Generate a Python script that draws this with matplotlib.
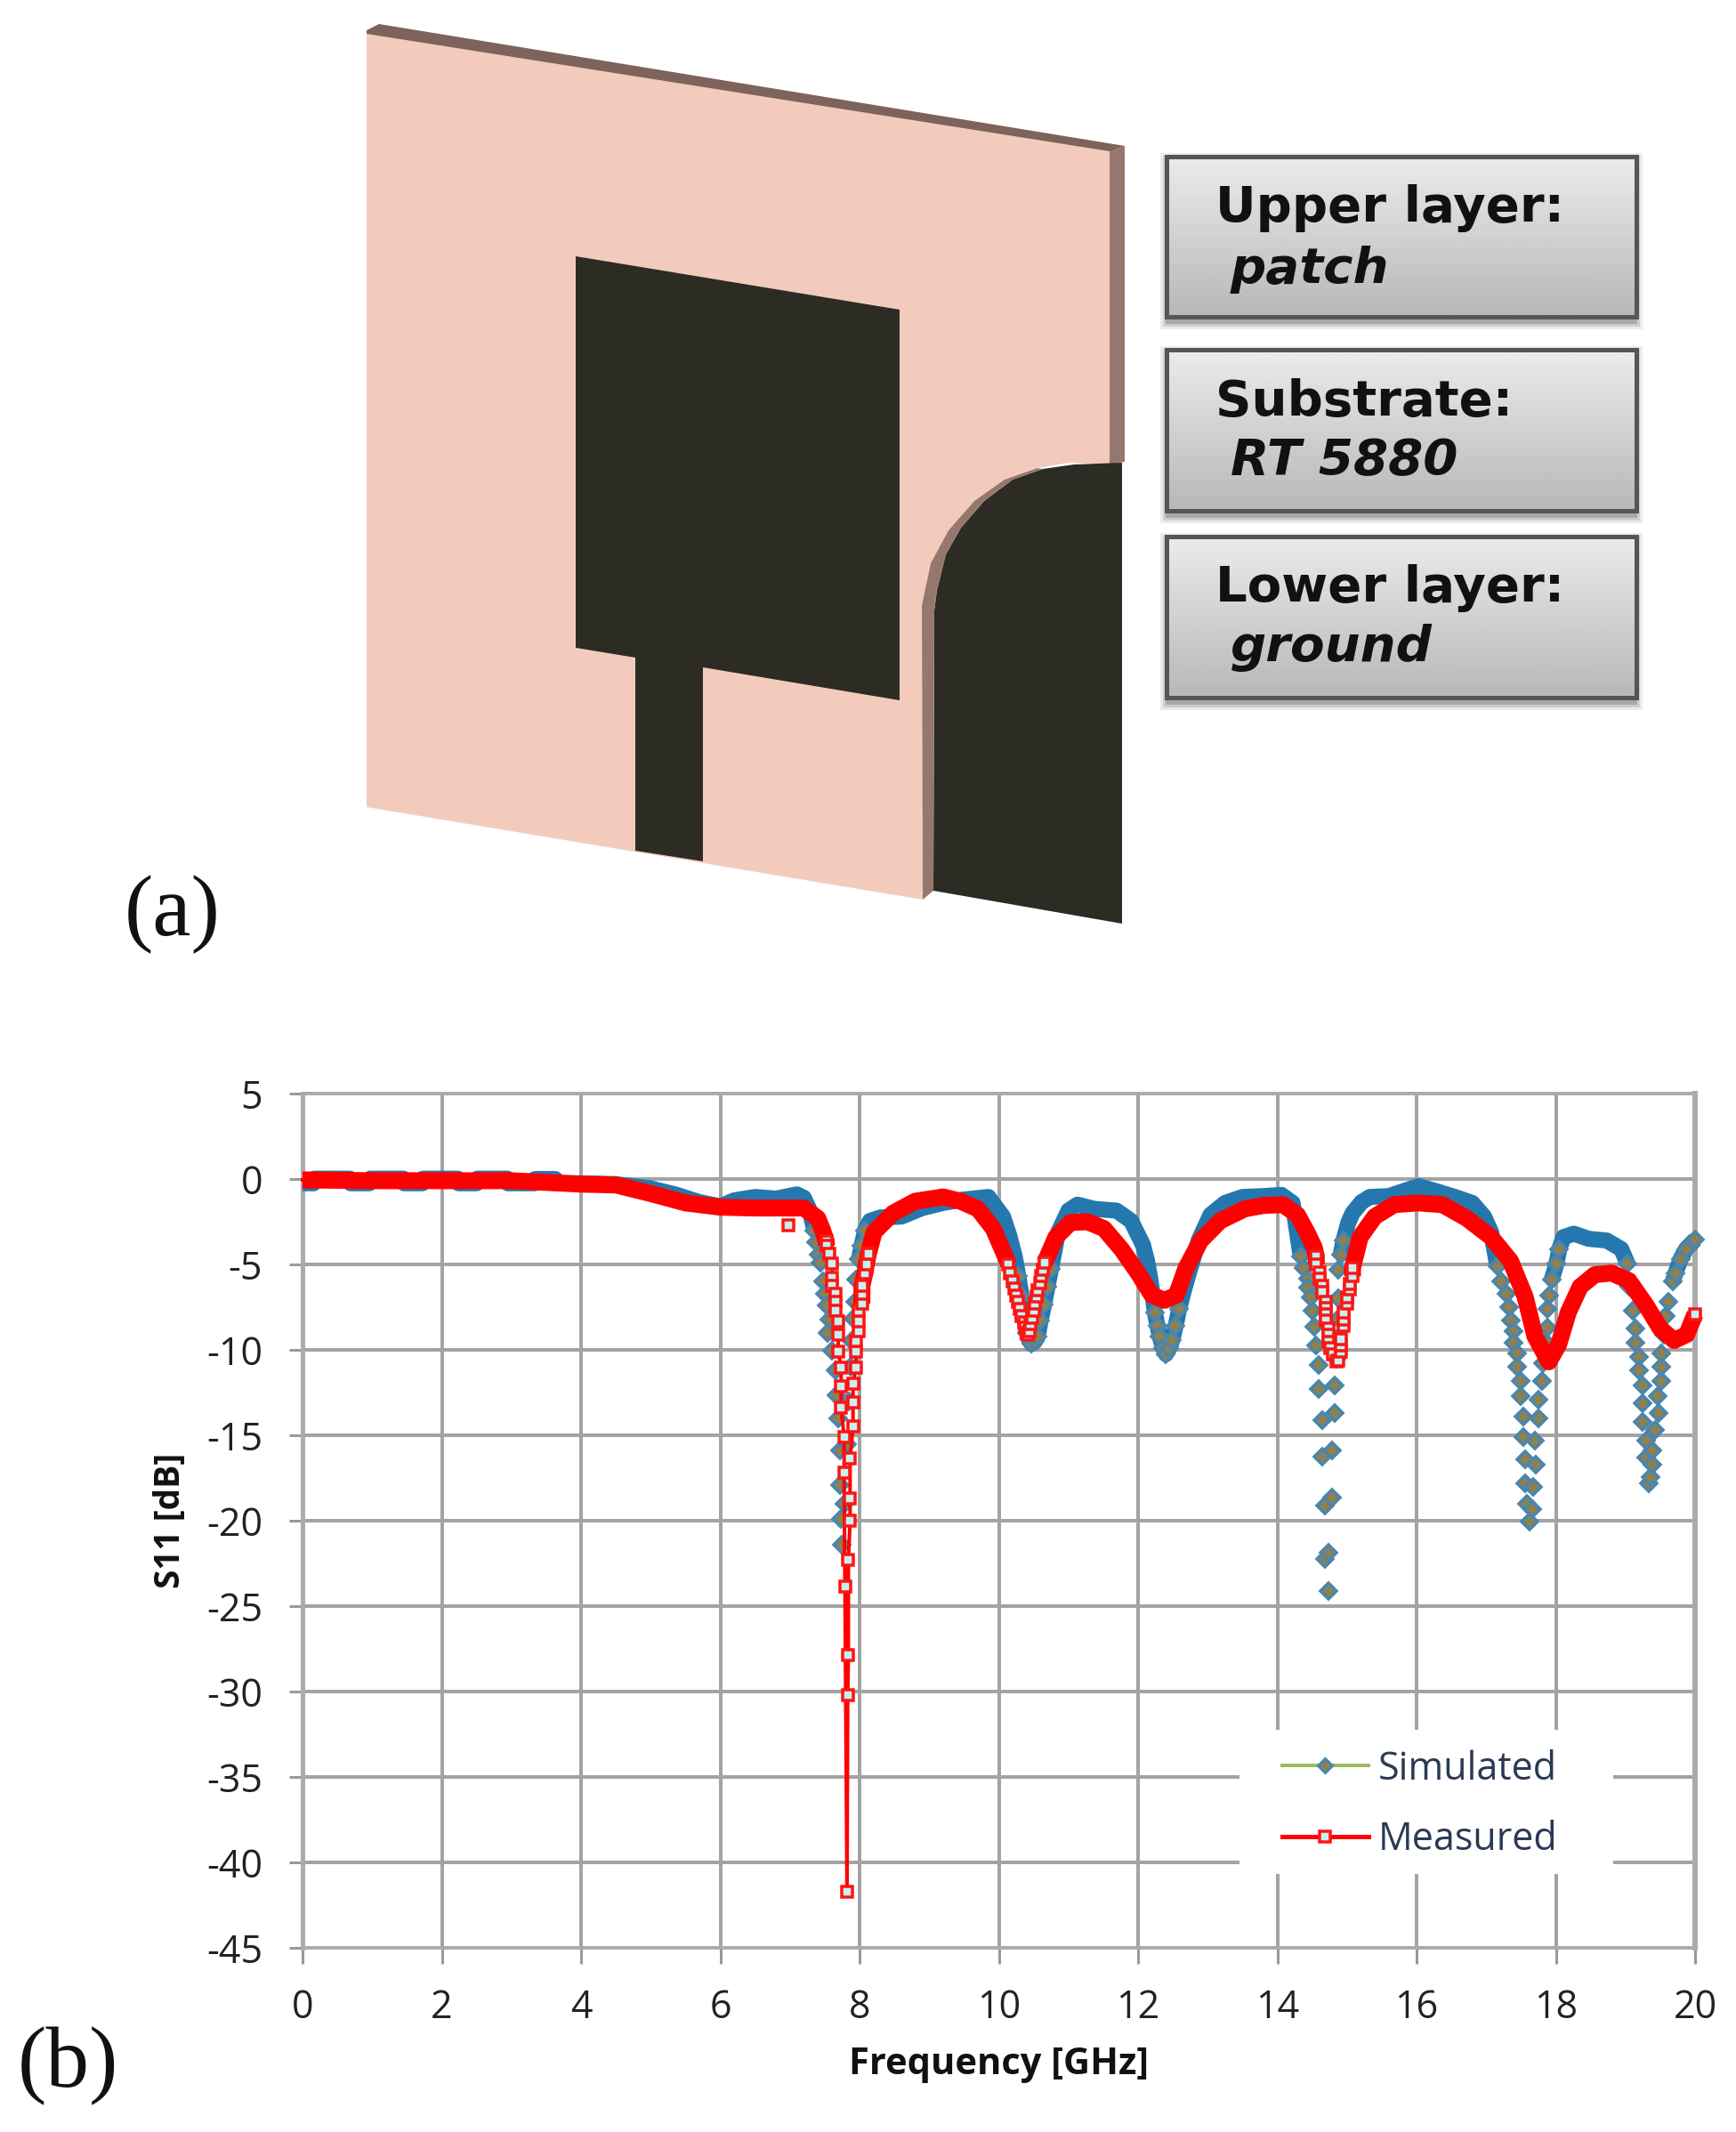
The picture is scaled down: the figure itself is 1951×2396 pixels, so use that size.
import numpy as np
import matplotlib
matplotlib.use("Agg")
import matplotlib.pyplot as plt
from matplotlib.lines import Line2D
from matplotlib.patches import Polygon, Rectangle

W, H = 1951, 2396
PX = 0.72  # one pixel in points at dpi=100

# Chart data
x_ticks = list(range(0, 21, 2))
y_ticks = list(range(-45, 6, 5))

sim_freq = [0, .16, .17, .68, .69, .96, .97, 1.45, 1.46, 1.72, 1.73, 2.23, 2.24, 2.5, 2.51, 2.94, 2.95, 3.33, 3.34, 3.63,
            3.64, 4.0, 4.5, 5.0, 5.35, 5.7, 6.0, 6.2, 6.5, 6.8, 7.1, 7.2, 7.28,
            7.352, 7.38, 7.416, 7.44, 7.48, 7.5, 7.523, 7.565, 7.544, 7.608, 7.651, 7.672, 7.69, 7.715, 7.725, 7.736,
            7.75, 7.78, 7.82, 7.85, 7.87, 7.89, 7.906, 7.93, 7.95, 7.99, 8.03, 8.08, 8.15, 8.3, 8.6, 8.9, 9.2, 9.5, 9.85,
            10.06, 10.15, 10.23, 10.28, 10.33, 10.37, 10.4, 10.44, 10.47, 10.52, 10.56, 10.6, 10.65, 10.7, 10.75, 10.8, 10.85, 11.0, 11.13,
            11.375, 11.69, 11.9, 12.07, 12.13, 12.17, 12.21, 12.24, 12.28, 12.31, 12.36, 12.4, 12.45, 12.49, 12.54, 12.59, 12.66, 12.73, 12.87,
            13.04, 13.25, 13.5, 13.8, 14.06, 14.22,
            14.335, 14.377, 14.44, 14.44, 14.48, 14.505, 14.527, 14.56, 14.6, 14.6, 14.646, 14.646, 14.69, 14.69, 14.74,
            14.74, 14.79, 14.79, 14.83, 14.83, 14.85, 14.86, 14.87, 14.87, 14.87, 14.91, 14.95, 15.02, 15.08, 15.21, 15.33,
            15.6, 15.82, 16.03, 16.27, 16.55, 16.8, 16.97, 17.07,
            17.16, 17.22, 17.29, 17.33, 17.35, 17.39, 17.39, 17.44, 17.45, 17.49, 17.49, 17.53, 17.53, 17.56, 17.56, 17.58, 17.62,
            17.66, 17.67, 17.71, 17.7, 17.75, 17.75, 17.8, 17.82, 17.86, 17.88, 17.88, 17.9, 17.94, 18.01, 18.05, 18.11, 18.26, 18.47, 18.73, 18.94,
            19.03, 19.05, 19.11, 19.15, 19.15, 19.2, 19.2, 19.25, 19.25, 19.25, 19.3, 19.3, 19.33,
            19.36, 19.39, 19.39, 19.43, 19.47, 19.46, 19.51, 19.51, 19.51, 19.55, 19.58, 19.62, 19.68, 19.72, 19.79, 19.87, 20.0]
sim_db = [-.25, -.25, .02, .02, -.25, -.25, .02, .02, -.25, -.25, .02, .02, -.25, -.25, .02, .02, -.25, -.25, 0, 0,
          -.25, -.25, -.3, -.55, -.9, -1.35, -1.6, -1.25, -1.05, -1.15, -.9, -1.1, -1.8,
          -3.0, -3.7, -4.45, -4.88, -6.0, -6.7, -7.4, -8.25, -9.0, -10.05, -11.2, -12.65, -14.0, -15.9, -17.9, -19.9,
          -21.4, -19.0, -15.5, -13.0, -11.0, -9.5, -8.2, -7.2, -5.9, -4.7, -3.9, -3.0, -2.45, -2.25, -2.2, -1.7, -1.4, -1.2, -1.05,
          -2.2, -3.3, -4.55, -5.7, -6.9, -8.1, -9.0, -9.4, -9.65, -9.5, -9.2, -8.3, -7.35, -6.3, -5.25, -4.2, -3.15, -1.85, -1.5,
          -1.75, -1.85, -2.45, -3.85, -4.8, -5.7, -6.8, -7.8, -8.6, -9.2, -9.9, -10.25, -9.9, -9.45, -8.6, -7.6, -6.5, -5.5, -3.6,
          -2.1, -1.4, -1.05, -1.0, -.93, -1.4,
          -4.53, -5.2, -5.83, -6.34, -6.95, -7.72, -8.67, -9.76, -10.86, -12.3, -14.1, -16.26, -19.1, -22.24, -24.1,
          -21.9, -18.65, -15.9, -13.7, -12.1, -10.5, -9.3, -8.2, -7.0, -5.3, -4.45, -3.6, -2.55, -2.0, -1.35, -1.05,
          -1.0, -.7, -.42, -.7, -1.05, -1.4, -2.2, -3.1,
          -5.1, -6.0, -6.7, -7.5, -8.3, -8.9, -9.6, -10.2, -11.0, -11.8, -12.7, -13.9, -15.1, -16.4, -17.8, -19.0, -20.07,
          -19.3, -18.0, -16.7, -15.3, -14.0, -12.9, -11.8, -10.8, -9.6, -8.7, -7.6, -6.8, -5.9, -4.95, -4.1, -3.4, -3.2, -3.5, -3.6, -4.1,
          -4.95, -6.3, -7.7, -8.75, -9.6, -10.4, -11.2, -12.1, -13.1, -14.2, -15.3, -16.3, -17.8,
          -17.45, -16.7, -15.9, -14.7, -13.7, -12.7, -11.8, -11.0, -10.2, -9.1, -8.0, -7.2, -6.0, -5.5, -4.7, -4.1, -3.55]

meas_freq = [0, 1, 2, 3, 4, 4.5, 5, 5.5, 6, 6.5, 7.0, 7.2, 7.3, 7.4, 7.47,
             7.523, 7.523, 7.565, 7.608, 7.608, 7.608, 7.651, 7.651, 7.651, 7.693, 7.693, 7.693, 7.736, 7.736, 7.736,
             7.778, 7.778, 7.79, 7.82, 7.83, 7.84, 7.84, 7.864, 7.864, 7.864,
             7.906, 7.906, 7.906, 7.949, 7.949, 7.949, 7.991, 7.991, 7.991, 8.034, 8.034, 8.034, 8.077, 8.098, 8.128, 8.21, 8.48, 8.8, 9.2, 9.45, 9.7, 9.92, 10.09,
             10.14, 10.16, 10.2, 10.22, 10.25, 10.28, 10.3, 10.33, 10.36, 10.38, 10.4, 10.42, 10.44, 10.46, 10.48, 10.5, 10.52, 10.54, 10.56, 10.59, 10.61, 10.63, 10.66,
             10.82, 11.03, 11.27, 11.51, 11.76, 12, 12.2, 12.38, 12.55, 12.69, 12.9, 13.18, 13.53, 13.8, 14.08, 14.29, 14.43, 14.53,
             14.56, 14.56, 14.61, 14.61, 14.65, 14.65, 14.70, 14.70, 14.70, 14.70, 14.74, 14.74, 14.74, 14.76, 14.8, 14.85,
             14.87, 14.91, 14.91, 14.91, 14.95, 14.95, 14.95, 15.0, 15.0, 15.04, 15.04, 15.08, 15.08,
             15.19, 15.4, 15.68, 16.03, 16.37, 16.72, 17.07, 17.35, 17.56, 17.7, 17.9, 18.04, 18.18, 18.35, 18.56, 18.8, 19.05, 19.29, 19.5, 19.7, 19.88, 20.0]
meas_db = [-.05, -.1, -.1, -.1, -.3, -.35, -.85, -1.4, -1.65, -1.7, -1.7, -1.7, -2.0, -2.3, -3.0,
           -3.67, -3.9, -4.36, -4.97, -5.79, -6.26, -6.72, -7.17, -7.72, -8.33, -9.14, -10.1, -11.03, -12.12, -13.38,
           -15.1, -17.17, -23.85, -41.7, -30.2, -27.85, -22.3, -20.0, -18.72, -16.38,
           -14.48, -13.07, -12.0, -11.03, -10.1, -9.5, -8.9, -8.33, -7.72, -7.3, -6.72, -6.26, -5.5, -5.0, -4.36, -3.1, -2.0, -1.3, -1.05, -1.3, -1.75, -2.9, -4.5,
           -5.0, -5.5, -6.0, -6.4, -6.8, -7.2, -7.6, -8.0, -8.4, -8.7, -9.0, -9.1, -8.9, -8.5, -8.1, -7.7, -7.3, -6.9, -6.5, -6.1, -5.7, -5.3, -4.9,
           -3.4, -2.55, -2.5, -2.9, -4.1, -5.5, -6.8, -7.1, -6.8, -5.2, -3.6, -2.45, -1.75, -1.55, -1.5, -2.1, -3.15, -4.0,
           -4.53, -5.0, -5.48, -5.83, -6.26, -6.6, -7.17, -7.55, -7.9, -8.28, -8.76, -9.1, -9.53, -9.88, -10.28, -10.7,
           -10.65, -10.1, -9.76, -9.36, -8.6, -8.25, -7.8, -7.3, -6.95, -6.48, -6.17, -5.7, -5.2,
           -3.4, -2.2, -1.5, -1.4, -1.5, -2.3, -3.4, -4.8, -6.9, -9.2, -10.7, -9.7, -7.8, -6.3, -5.6, -5.5, -5.95, -7.35, -8.75, -9.45, -9.1, -7.9]
stray_freq = [6.98]
stray_db = [-2.7]

# which stretches are so dense in the original that the markers merge into a band
sim_band = [(0, 7.36), (7.99, 14.34), (14.9, 17.17), (17.94, 19.04), (19.65, 20.05)]
sim_marks = [(7.3, 8.1), (10.25, 10.75), (12.2, 12.65), (14.3, 15.0), (17.15, 18.1), (19.0, 20.05)]
meas_band = [(0, 7.53), (8.03, 10.15), (10.65, 14.57), (15.07, 20.0)]
meas_marks = [(7.5, 8.13), (10.14, 10.66), (14.56, 15.08), (19.99, 20.05)]

# Panel (a), pixel outlines of the model
front_face = [(412, 38), (1247, 170), (1247, 522), (1201, 520), (1166, 526), (1129, 539), (1095, 563), (1066, 596),
              (1046, 633), (1036, 680), (1037, 1011), (412, 907)]
top_edge = [(412, 34), (426, 27), (1264, 164), (1247, 171), (412, 40)]
side_edge = [(1247, 171), (1264, 164), (1264, 519), (1247, 522)]
ground_edge = [(1166, 526), (1129, 539), (1095, 563), (1066, 596), (1046, 633), (1036, 680), (1037, 1011), (1049, 1001),
               (1050, 686), (1053, 663), (1063, 623), (1080, 593), (1106, 563), (1138, 539), (1172, 527)]
ground = [(1261, 520), (1207, 522), (1172, 527), (1138, 539), (1106, 563), (1080, 593), (1063, 623), (1053, 663),
          (1050, 686), (1049, 1001), (1261, 1038)]
patch = [(647, 288), (1011, 348), (1011, 787), (790, 750), (790, 968), (714, 956), (714, 739), (647, 728)]
boxes = [(176, 356, "Upper layer:", "patch", 249, 318),
         (393, 574, "Substrate:", "RT 5880", 467, 533),
         (603, 784, "Lower layer:", "ground", 676, 743)]


def pick(f, db, ranges):
    f = np.array(f, dtype=float)
    db = np.array(db, dtype=float)
    keep = np.zeros(len(f), dtype=bool)
    for lo, hi in ranges:
        keep |= (f >= lo) & (f <= hi)
    return f, np.where(keep, db, np.nan)


fig = plt.figure(figsize=(W / 100, H / 100), dpi=100, facecolor="white")

# full figure layer in pixels for the model drawing
bg = fig.add_axes([0, 0, 1, 1])
bg.set_xlim(0, W)
bg.set_ylim(H, 0)
bg.axis("off")

bg.add_patch(Polygon(top_edge, closed=True, fc="#7d635a", ec="none"))
bg.add_patch(Polygon(side_edge, closed=True, fc="#96776d", ec="none"))
bg.add_patch(Polygon(front_face, closed=True, fc="#f2cbbd", ec="none"))
bg.add_patch(Polygon(ground, closed=True, fc="#2c2c24", ec="none"))
bg.add_patch(Polygon(ground_edge, closed=True, fc="#96776d", ec="none"))
bg.add_patch(Polygon(patch, closed=True, fc="#2c2c24", ec="none"))

gradient = np.linspace(0.92, 0.72, 64).reshape(-1, 1)
for top, bot, head, sub, y1, y2 in boxes:
    for grow, a in [(9, 0.08), (6, 0.12), (3, 0.18)]:
        bg.add_patch(Rectangle((1311 - grow + 2, top - grow + 5), 528 + 2 * grow - 4, bot - top + 2 * grow,
                               fc="black", alpha=a, ec="none"))
    bg.imshow(gradient, cmap="gray", vmin=0, vmax=1, extent=(1311, 1839, bot, top), aspect="auto", zorder=2)
    bg.add_patch(Rectangle((1311, top), 528, bot - top, fc="none", ec="#555555", lw=5 * PX, zorder=3))
    bg.text(1366, y1, head, family="DejaVu Sans", weight="bold", fontsize=40.5, va="baseline", zorder=4, color="#111111")
    bg.text(1383, y2, sub, family="DejaVu Sans", weight="bold", style="italic", fontsize=40.5, va="baseline", zorder=4, color="#111111")
bg.set_xlim(0, W)
bg.set_ylim(H, 0)

bg.text(194, 1028, "(a)", family="Liberation Serif", fontsize=70, ha="center", va="center", color="#111111")
bg.text(76, 2322, "(b)", family="Liberation Serif", fontsize=70, ha="center", va="center", color="#111111")

# Panel (b)
ax = fig.add_axes([340 / W, 1 - 2189 / H, 1565 / W, 960 / H])
ax.set_xlim(0, 20)
ax.set_ylim(-45, 5)
ax.set_axisbelow(True)
ax.grid(True, color="#a3a3a3", lw=4 * PX)
ax.set_xticks(x_ticks)
ax.set_yticks(y_ticks)
ax.set_xticklabels([str(v) for v in x_ticks], family="Open Sans", fontsize=31, color="#222222")
ax.set_yticklabels([str(v) for v in y_ticks], family="Open Sans", fontsize=31, color="#222222")
ax.tick_params(axis="x", length=18 * PX, width=3 * PX, color="#999999", pad=28 * PX)
ax.tick_params(axis="y", length=15 * PX, width=3 * PX, color="#999999", pad=30 * PX)
for name, lw in [("top", 4), ("bottom", 4), ("left", 5), ("right", 6)]:
    ax.spines[name].set_color("#ababab")
    ax.spines[name].set_linewidth(lw * PX)

f, d = pick(sim_freq, sim_db, sim_band)
ax.plot(f, d, color="#2578ad", lw=18 * PX, solid_capstyle="butt", clip_on=False, zorder=3)
f, d = pick(sim_freq, sim_db, sim_marks)
ax.plot(f, d, ls="none", marker="D", ms=12.5 * PX, mfc="#8f8050", mec="#4a86ac", mew=3.5 * PX, clip_on=False, zorder=3.1)

ax.plot(meas_freq, meas_db, color="#ff0000", lw=4 * PX, clip_on=False, zorder=4)
f, d = pick(meas_freq, meas_db, meas_band)
ax.plot(f, d, color="#ff0000", lw=19 * PX, solid_capstyle="butt", clip_on=False, zorder=4)
f, d = pick(meas_freq, meas_db, meas_marks)
ax.plot(f, d, ls="none", marker="s", ms=12 * PX, mfc="#c8f0f0", mec="#ff1414", mew=3.5 * PX, clip_on=False, zorder=4.1)
ax.plot(stray_freq, stray_db, ls="none", marker="s", ms=12 * PX, mfc="#c8f0f0", mec="#ff1414", mew=3.5 * PX, zorder=4.1)

ax.set_xlabel("Frequency [GHz]", family="Open Sans", weight="bold", fontsize=30, labelpad=15, color="#111111")
ax.set_ylabel("S11 [dB]", family="Open Sans", weight="bold", fontsize=28, labelpad=15, color="#111111")

# white block behind the legend hides the grid like the spreadsheet legend does
ax.add_patch(Rectangle(((1393 - 340) / 1565, (2189 - 2106) / 960), 420 / 1565, 162 / 960,
                       transform=ax.transAxes, fc="white", ec="none", zorder=2.5))
handles = [Line2D([], [], color="#9bbb59", lw=4 * PX, marker="D", ms=12 * PX, mfc="#8f8050", mec="#4a86ac", mew=3 * PX),
           Line2D([], [], color="#ff0000", lw=5 * PX, marker="s", ms=12 * PX, mfc="#c8f0f0", mec="#ff1414", mew=3.5 * PX)]
leg = ax.legend(handles, ["Simulated", "Measured"], loc="upper left",
                bbox_to_anchor=((1441 - 340) / 1565, (2189 - 1966) / 960), frameon=False,
                prop={"family": "Open Sans", "size": 31}, handlelength=2.25, handletextpad=0.25,
                labelspacing=0.82, borderpad=0, borderaxespad=0)
leg.set_zorder(6)
for t in leg.get_texts():
    t.set_color("#2a3a55")

fig.savefig("out.png", dpi=100)
